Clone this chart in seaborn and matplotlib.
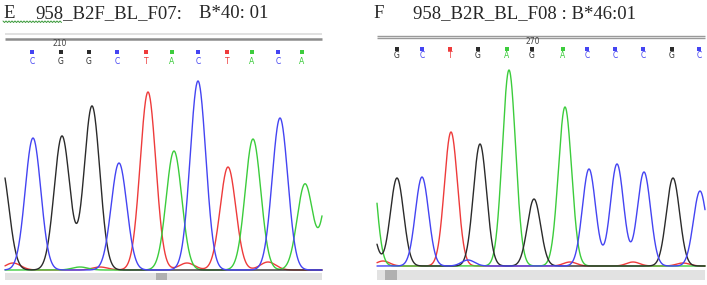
import numpy as np
import pandas as pd
import matplotlib
matplotlib.use("Agg")
import matplotlib.pyplot as plt
from matplotlib.patches import Rectangle
from matplotlib.lines import Line2D
import seaborn as sns

# ---------------- data ----------------
# Panel E (forward read)
left_title_id = "E"
left_title_name = "958_B2F_BL_F07:"
left_title_allele = "B*40: 01"
left_calls = ["C", "G", "G", "C", "T", "A", "C", "T", "A", "C", "A"]
left_call_scan = [32, 61, 89, 117, 146, 172, 198, 227, 252, 278, 302]
left_index_label = "210"
left_index_scan = 60
left_peak_base = ["G", "C", "G", "G", "C", "T", "A", "C", "T", "A", "C", "A", "A",
                  "T", "T", "T", "A", "T"]
left_peak_scan = [1, 33, 62, 92, 119, 148, 174, 198, 228, 253, 280, 305, 332,
                  13, 187, 268, 80, 100]
left_peak_height = [105, 132, 134, 164, 107, 178, 119, 189, 103, 131, 152, 86, 105,
                    7, 7, 8, 3, 3]
left_scan_range = (5, 322)
left_sigma = 7.8
left_thumb = (156, 167)

# Panel F (reverse read)
right_title_id = "F"
right_title_name = "958_B2R_BL_F08 : B*46:01"
right_calls = ["G", "C", "T", "G", "A", "G", "A", "C", "C", "C", "G", "C"]
right_call_scan = [397, 422, 450, 478, 507, 532, 563, 587, 615, 643, 672, 699]
right_index_label = "270"
right_index_scan = 533
right_peak_base = ["G", "A", "G", "C", "T", "G", "A", "G", "A", "C", "C", "C", "G", "C",
                   "T", "C", "T", "T", "T"]
right_peak_scan = [368, 369, 397, 422, 451, 480, 509, 534, 565, 589, 617, 644, 673, 700,
                   383, 468, 570, 633, 683]
right_peak_height = [53, 131, 88, 89, 134, 122, 196, 67, 159, 97, 102, 94, 88, 75,
                     5, 6, 4, 4, 3]
right_scan_range = (377, 705)
right_sigma = 6.6
right_thumb = (385, 397)

base_colors = {"G": "#2b2b2b", "A": "#3ccc3c", "T": "#ee3b3b", "C": "#4444f2"}
base_order = ["T", "A", "G", "C"]


def traces(bases, scans, heights, scan_range, sigma):
    x = np.arange(scan_range[0], scan_range[1] + 0.25, 0.25)
    rows = []
    for b in base_order:
        y = np.zeros_like(x)
        for bb, c, h in zip(bases, scans, heights):
            if bb == b:
                y += h * np.exp(-((x - c) ** 2) / (2 * sigma ** 2))
        rows.append(pd.DataFrame({"scan": x, "signal": y, "base": b}))
    return pd.concat(rows, ignore_index=True)


W, H = 707, 285
sns.set_theme(style="white")
plt.rcParams["font.family"] = ["DejaVu Sans"]
fig = plt.figure(figsize=(W / 100, H / 100), dpi=100)
fig.patch.set_facecolor("white")


def panel(px0, px1, baseline_px, top_px, scan_range, bases, scans, heights, sigma,
          calls, call_scan, idx_label, idx_scan, thumb, square_px, letter_px,
          idx_px, line_pxs, band_px):
    ax = fig.add_axes([px0 / W, 0, (px1 - px0) / W, (H - top_px) / H])
    ax.set_xlim(px0, px1)
    ax.set_ylim(-(H - baseline_px), baseline_px - top_px)
    ax.axis("off")
    df = traces(bases, scans, heights, scan_range, sigma)
    sns.lineplot(data=df, x="scan", y="signal", hue="base", hue_order=base_order,
                 palette=base_colors, legend=False, ax=ax, linewidth=1.0,
                 sort=False, estimator=None)
    # base-call squares and letters
    cdf = pd.DataFrame({"scan": call_scan, "base": calls})
    cdf["y"] = baseline_px - square_px
    sns.scatterplot(data=cdf, x="scan", y="y", hue="base", palette=base_colors,
                    marker="s", s=9, linewidth=0, legend=False, ax=ax)
    for c, s in zip(calls, call_scan):
        ax.text(s, baseline_px - letter_px, c, color=base_colors[c], fontsize=5.5,
                ha="center", va="center")
    ax.text(idx_scan, baseline_px - idx_px, idx_label, color="#444444", fontsize=5.5,
            ha="center", va="center")
    # scroll lines
    for lp, col, lw in line_pxs:
        ax.plot([scan_range[0], scan_range[1]], [baseline_px - lp] * 2, color=col,
                lw=lw, solid_capstyle="butt")
    # bottom band with thumb
    b0, b1 = band_px
    ax.add_patch(Rectangle((scan_range[0], -(b1 - baseline_px)),
                           scan_range[1] - scan_range[0], b1 - b0,
                           facecolor="#e2e2e2", edgecolor="none"))
    ax.add_patch(Rectangle((thumb[0], -(b1 - baseline_px)), thumb[1] - thumb[0],
                           b1 - b0, facecolor="#b0b0b0", edgecolor="none"))
    return ax


panel(0, 340, 270, 28, left_scan_range, left_peak_base, left_peak_scan,
      left_peak_height, left_sigma, left_calls, left_call_scan, left_index_label,
      left_index_scan, left_thumb, 52, 61, 44,
      [(33.5, "#dcdcdc", 1.2), (39, "#8c8c8c", 1.8)], (273, 280))

panel(365, 707, 266, 28, right_scan_range, right_peak_base, right_peak_scan,
      right_peak_height, right_sigma, right_calls, right_call_scan, right_index_label,
      right_index_scan, right_thumb, 49, 56, 42,
      [(36, "#9a9a9a", 1.0), (38, "#9a9a9a", 1.0)], (270, 280))

# titles
serif = ["Liberation Serif", "DejaVu Serif"]
ty = 1 - 18 / H
fig.text(3 / W, ty, left_title_id, family=serif, fontsize=13.5, va="baseline")
fig.text(35 / W, ty, left_title_name, family=serif, fontsize=13.5, va="baseline")
fig.text(199 / W, ty, left_title_allele, family=serif, fontsize=13.5, va="baseline")
fig.text(373 / W, ty, right_title_id, family=serif, fontsize=13.5, va="baseline")
fig.text(413 / W, ty, right_title_name, family=serif, fontsize=13.5, va="baseline")

# spell-check squiggle under the first word
zx = np.arange(3, 62, 1.5)
zy = np.where(np.arange(len(zx)) % 2 == 0, 21, 22.5)
fig.add_artist(Line2D(zx / W, 1 - zy / H, color="#3a9a3a", lw=0.7))

fig.savefig("out.png", dpi=100, facecolor="white")
